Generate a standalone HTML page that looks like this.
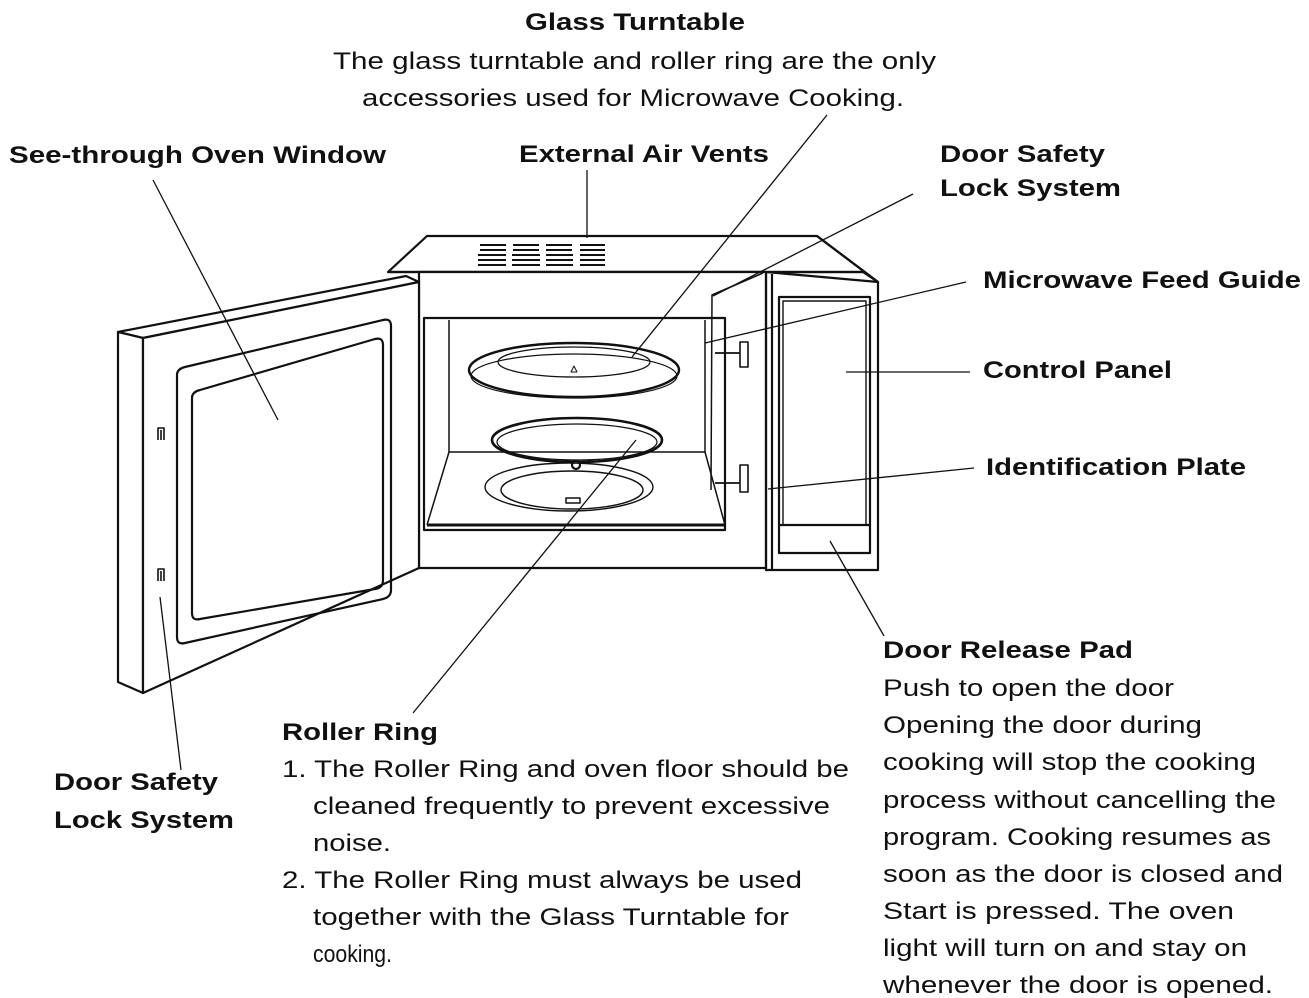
<!DOCTYPE html>
<html><head><meta charset="utf-8"><style>
html,body{margin:0;padding:0;background:#fff;}
svg{display:block;}
text{font-family:"Liberation Sans",Arial,sans-serif;fill:#111;}
.b{font-weight:bold;font-size:24px;}
.r{font-size:24px;}
</style></head><body>
<svg width="1309" height="998" viewBox="0 0 1309 998" xmlns="http://www.w3.org/2000/svg">
<g fill="none" stroke="#111" stroke-width="2.2" stroke-linejoin="round">
<polygon points="427,236 817,236 878,282 863,272 388,272" fill="#fff"/>
<line x1="388" y1="272" x2="863" y2="272"/>
<line x1="817" y1="236" x2="878" y2="282"/>
<rect x="419" y="272" width="347" height="296" fill="#fff"/>
<polyline points="766,272 878,282 878,570 766,570 766,272"/>
<line x1="772" y1="274" x2="772" y2="570"/>
<rect x="779" y="297" width="91" height="256"/>
<rect x="783" y="301" width="83" height="224" stroke-width="1.4"/>
<line x1="779" y1="525" x2="870" y2="525"/>
<g stroke-width="2">
<path d="M480,245h26M480,250h26M478,255h28M478,260h28M478,265h28"/>
<path d="M513,245h26M513,250h26M512,255h28M512,260h28M512,265h28"/>
<path d="M546,245h26M546,250h26M546,255h27M546,260h27M546,265h27"/>
<path d="M580,245h25M580,250h25M580,255h25M580,260h25M580,265h25"/>
</g>
<rect x="424" y="318" width="301" height="212"/>
<polyline points="449,320 449,452 705,452 705,320" stroke-width="1.5"/>
<line x1="449" y1="452" x2="427" y2="525" stroke-width="1.5"/>
<line x1="705" y1="452" x2="725" y2="525" stroke-width="1.5"/>
<line x1="427" y1="525" x2="725" y2="525" stroke-width="3"/>
<polyline points="763,273 712,295 711,490" stroke-width="1.5"/>
<path d="M715,353h25M715,483h25" stroke-width="1.8"/>
<rect x="740" y="342" width="8" height="25" stroke-width="1.6"/>
<rect x="740" y="465" width="8" height="27" stroke-width="1.6"/>
<ellipse cx="574" cy="370" rx="105" ry="27" stroke-width="2.4"/>
<ellipse cx="574" cy="376" rx="103" ry="22" stroke-width="1.2"/>
<ellipse cx="574" cy="362" rx="76" ry="15" stroke-width="1.2"/>
<path d="M571,372 l3,-6 l3,6z" stroke-width="1"/>
<ellipse cx="577" cy="440" rx="85" ry="22" stroke-width="2.6"/>
<ellipse cx="577" cy="442" rx="80" ry="18" stroke-width="1.2"/>
<circle cx="576" cy="465" r="4" fill="#fff"/>
<ellipse cx="569" cy="487" rx="84" ry="24" stroke-width="1.4"/>
<ellipse cx="572" cy="490" rx="71" ry="19" stroke-width="1.4"/>
<path d="M566,498h14v5h-14z" stroke-width="1.5"/>
<polygon points="118,332 406,276 419,282 143,338" fill="#fff"/>
<polygon points="118,332 143,338 143,693 118,682" fill="#fff"/>
<polygon points="143,338 419,282 419,568 143,693" fill="#fff"/>
<path d="M185,367 L383,320 Q391,318 391,326 L391,590 Q391,597 383,599 L185,643 Q177,645 177,637 L177,375 Q177,369 185,367Z"/>
<path d="M200,390 L375,339 Q383,337 383,345 L383,580 Q383,588 375,589 L200,619 Q192,621 192,613 L192,398 Q192,392 200,390Z"/>
<path d="M158,440v-12h6v12M161,440v-10M158,581v-12h6v12M161,581v-10" stroke-width="1.6"/>
</g>
<g stroke="#111" stroke-width="1.3">
<line x1="153" y1="180" x2="278" y2="420"/>
<line x1="587" y1="170" x2="587" y2="238"/>
<line x1="827" y1="115" x2="632" y2="357"/>
<line x1="913" y1="194" x2="713" y2="296"/>
<line x1="966" y1="282" x2="705" y2="343"/>
<line x1="846" y1="372" x2="970" y2="372"/>
<line x1="974" y1="468" x2="768" y2="489"/>
<line x1="830" y1="541" x2="884" y2="636"/>
<line x1="636" y1="440" x2="413" y2="713"/>
<line x1="160" y1="597" x2="181" y2="770"/>
</g>
<g lengthAdjust="spacingAndGlyphs">
<text class="b" x="525" y="30" textLength="220" lengthAdjust="spacingAndGlyphs">Glass Turntable</text>
<text class="r" x="333" y="69" textLength="603" lengthAdjust="spacingAndGlyphs">The glass turntable and roller ring are the only</text>
<text class="r" x="362" y="106" textLength="542" lengthAdjust="spacingAndGlyphs">accessories used for Microwave Cooking.</text>
<text class="b" x="9" y="163" textLength="377" lengthAdjust="spacingAndGlyphs">See-through Oven Window</text>
<text class="b" x="519" y="162" textLength="250" lengthAdjust="spacingAndGlyphs">External Air Vents</text>
<text class="b" x="940" y="162" textLength="165" lengthAdjust="spacingAndGlyphs">Door Safety</text>
<text class="b" x="940" y="196" textLength="181" lengthAdjust="spacingAndGlyphs">Lock System</text>
<text class="b" x="983" y="288" textLength="318" lengthAdjust="spacingAndGlyphs">Microwave Feed Guide</text>
<text class="b" x="983" y="378" textLength="189" lengthAdjust="spacingAndGlyphs">Control Panel</text>
<text class="b" x="986" y="475" textLength="260" lengthAdjust="spacingAndGlyphs">Identification Plate</text>
<text class="b" x="883" y="658" textLength="250" lengthAdjust="spacingAndGlyphs">Door Release Pad</text>
<text class="r" x="883" y="696" textLength="291" lengthAdjust="spacingAndGlyphs">Push to open the door</text>
<text class="r" x="883" y="733" textLength="319" lengthAdjust="spacingAndGlyphs">Opening the door during</text>
<text class="r" x="883" y="770" textLength="373" lengthAdjust="spacingAndGlyphs">cooking will stop the cooking</text>
<text class="r" x="883" y="808" textLength="393" lengthAdjust="spacingAndGlyphs">process without cancelling the</text>
<text class="r" x="883" y="845" textLength="388" lengthAdjust="spacingAndGlyphs">program. Cooking resumes as</text>
<text class="r" x="883" y="882" textLength="400" lengthAdjust="spacingAndGlyphs">soon as the door is closed and</text>
<text class="r" x="883" y="919" textLength="351" lengthAdjust="spacingAndGlyphs">Start is pressed. The oven</text>
<text class="r" x="883" y="956" textLength="364" lengthAdjust="spacingAndGlyphs">light will turn on and stay on</text>
<text class="r" x="883" y="993" textLength="390" lengthAdjust="spacingAndGlyphs">whenever the door is opened.</text>
<text class="b" x="282" y="740" textLength="156" lengthAdjust="spacingAndGlyphs">Roller Ring</text>
<text class="r" x="282" y="777" textLength="567" lengthAdjust="spacingAndGlyphs">1. The Roller Ring and oven floor should be</text>
<text class="r" x="313" y="814" textLength="517" lengthAdjust="spacingAndGlyphs">cleaned frequently to prevent excessive</text>
<text class="r" x="313" y="851" textLength="78" lengthAdjust="spacingAndGlyphs">noise.</text>
<text class="r" x="282" y="888" textLength="520" lengthAdjust="spacingAndGlyphs">2. The Roller Ring must always be used</text>
<text class="r" x="313" y="925" textLength="476" lengthAdjust="spacingAndGlyphs">together with the Glass Turntable for</text>
<text class="r" x="313" y="962" textLength="79" lengthAdjust="spacingAndGlyphs">cooking.</text>
<text class="b" x="54" y="790" textLength="164" lengthAdjust="spacingAndGlyphs">Door Safety</text>
<text class="b" x="54" y="828" textLength="180" lengthAdjust="spacingAndGlyphs">Lock System</text>
</g>
</svg>
</body></html>
